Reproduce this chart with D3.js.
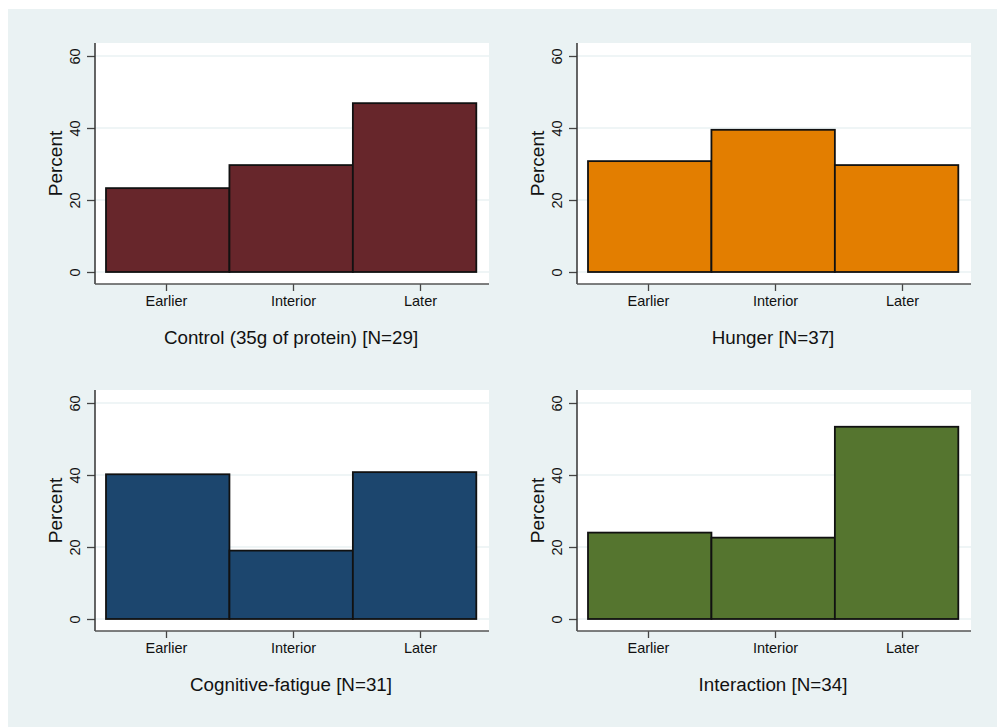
<!DOCTYPE html>
<html>
<head>
<meta charset="utf-8">
<script src="https://cdn.jsdelivr.net/npm/d3@7"></script>
<style>
  body { margin: 0; background: #fff; }
  svg text { font-family: "Liberation Sans", Arial, sans-serif; fill: #111; }
</style>
</head>
<body>
<svg width="997" height="727"></svg>
<script>
const svg = d3.select("svg")

// data
const categories = ["Earlier", "Interior", "Later"]
const panelTitles = ["Control (35g of protein) [N=29]", "Hunger [N=37]", "Cognitive-fatigue [N=31]", "Interaction [N=34]"]
const controlPct     = [23.3, 29.7, 46.9]
const hungerPct      = [30.8, 39.5, 29.7]
const cognitivePct   = [40.2, 19.0, 40.8]
const interactionPct = [24.0, 22.6, 53.4]
const yTicks = [0, 20, 40, 60]
const colors = ["#67262b", "#e37e00", "#1c466e", "#55752f"]

const series = [controlPct, hungerPct, cognitivePct, interactionPct]

// panel placement (left of y axis, top of plot region)
const panels = [
  {x: 95,  y: 43},
  {x: 577, y: 43},
  {x: 95,  y: 390},
  {x: 577, y: 390}
]
const pw = 394, ph = 241   // plot width, distance from top to x axis line

svg.append("rect")
  .attr("x", 8).attr("y", 9)
  .attr("width", 989).attr("height", 718)
  .style("fill", "#eaf2f3")

const y = d3.scaleLinear().domain([0, 60]).range([229, 13])
const xBar = d3.scaleLinear().domain([0.5, 3.5]).range([11, 381.3])
const xTick = d3.scaleLinear().domain([1, 3]).range([71, 325])

panels.forEach(function(p, i) {
  const g = svg.append("g").attr("transform", "translate(" + p.x + "," + p.y + ")")
  const data = series[i].map((v, j) => ({cat: categories[j], idx: j + 1, val: v}))

  g.append("rect")
    .attr("width", pw).attr("height", ph)
    .style("fill", "#fff")

  // grid
  g.selectAll(".grid")
      .data(yTicks)
    .enter().append("line")
      .attr("x1", 0).attr("x2", pw)
      .attr("y1", (d) => y(d)).attr("y2", (d) => y(d))
      .style("stroke", "#eaf2f3")
      .style("stroke-width", 1.5)

  // bars
  g.selectAll(".bar")
      .data(data)
    .enter().append("rect")
      .attr("x", (d) => xBar(d.idx - 0.5))
      .attr("width", (d) => xBar(d.idx + 0.5) - xBar(d.idx - 0.5))
      .attr("y", (d) => y(d.val))
      .attr("height", (d) => y(0) - y(d.val))
      .style("fill", colors[i])
      .style("stroke", "#111")
      .style("stroke-width", 1.8)

  // y axis
  const yAxis = g.append("g")
    .call(d3.axisLeft(y).tickValues(yTicks).tickSize(8).tickPadding(7))
  yAxis.select(".domain").remove()
  yAxis.selectAll(".tick line").style("stroke", "#444").style("stroke-width", 1.3)
  yAxis.selectAll(".tick text")
    .attr("x", null).attr("dy", null)
    .attr("transform", "translate(-15.5,0) rotate(-90)")
    .style("text-anchor", "middle")
    .style("font-size", "14.5px")
  g.append("line")
    .attr("x1", 0).attr("x2", 0).attr("y1", 0).attr("y2", ph)
    .style("stroke", "#333").style("stroke-width", 1.5)

  // x axis
  const xAxis = g.append("g")
    .attr("transform", "translate(0," + ph + ")")
    .call(d3.axisBottom(xTick).tickValues([1, 2, 3]).tickFormat((d) => categories[d - 1]).tickSize(7))
  xAxis.select(".domain").remove()
  xAxis.selectAll(".tick line").style("stroke", "#444").style("stroke-width", 1.3)
  xAxis.selectAll(".tick text")
    .attr("y", 22).attr("dy", null)
    .style("font-size", "14.5px")
  g.append("line")
    .attr("x1", 0).attr("x2", pw).attr("y1", ph).attr("y2", ph)
    .style("stroke", "#555").style("stroke-width", 1.6)

  g.append("text")
    .attr("transform", "translate(-33.5," + (ph / 2) + ") rotate(-90)")
    .style("text-anchor", "middle")
    .style("font-size", "19px")
    .text("Percent")

  g.append("text")
    .attr("x", pw / 2 - 1)
    .attr("y", ph + 59.5)
    .style("text-anchor", "middle")
    .style("font-size", "18.8px")
    .text(panelTitles[i])
})
</script>
</body>
</html>
